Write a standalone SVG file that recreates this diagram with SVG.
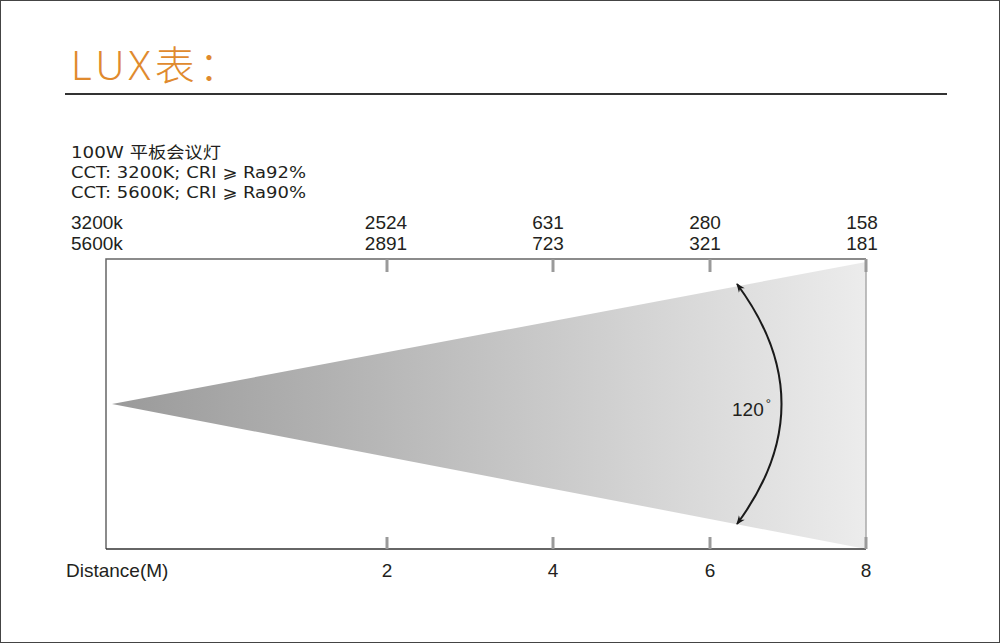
<svg xmlns="http://www.w3.org/2000/svg" width="1000" height="643" viewBox="0 0 1000 643">
<defs>
<linearGradient id="cone" x1="112" y1="0" x2="866" y2="0" gradientUnits="userSpaceOnUse">
<stop offset="0" stop-color="#9a9a9a"/>
<stop offset="1" stop-color="#ececec"/>
</linearGradient>
<marker id="ah" viewBox="0 0 10 10" refX="9" refY="5" markerWidth="9" markerHeight="9" orient="auto-start-reverse" markerUnits="userSpaceOnUse">
<path d="M0,1 L10,5 L0,9 L3,5 Z" fill="#1a1a1a"/>
</marker>
<style>
.t{font-family:"Liberation Sans",Arial,sans-serif;font-size:19px;fill:#231f20}
.g{font-family:"DejaVu Sans","Noto Sans CJK SC",sans-serif;font-size:16px;fill:#231f20}
.m{text-anchor:middle}
.tick{stroke:#9a9a9a;stroke-width:3}
</style>
</defs>
<rect x="0.5" y="0.5" width="999" height="642" fill="#fff" stroke="#444" stroke-width="1"/>
<g id="title">
<text x="71" y="80" font-family="'Noto Sans','Noto Sans CJK SC',sans-serif" font-size="40" fill="#e08a2e" font-weight="300" textLength="168" lengthAdjust="spacing">LUX表：</text>
<line x1="65" y1="94" x2="947" y2="94" stroke="#333" stroke-width="2"/>
</g>
<g id="info">
<text class="g" x="71" y="158" textLength="150" lengthAdjust="spacingAndGlyphs">100W 平板会议灯</text>
<text class="g" x="71" y="178" textLength="235" lengthAdjust="spacingAndGlyphs">CCT: 3200K; CRI ⩾ Ra92%</text>
<text class="g" x="71" y="198" textLength="235" lengthAdjust="spacingAndGlyphs">CCT: 5600K; CRI ⩾ Ra90%</text>
</g>
<g id="chart">
<polygon points="112,404 866,262 866,549" fill="url(#cone)"/>
<polyline points="106,549 106,259 866,259" fill="none" stroke="#666" stroke-width="1.5"/>
<line x1="106" y1="549" x2="866" y2="549" stroke="#333" stroke-width="1.5"/>
<line x1="866" y1="259" x2="866" y2="549" stroke="#aaa" stroke-width="1.5"/>
<line class="tick" x1="387" y1="259" x2="387" y2="272"/>
<line class="tick" x1="553" y1="259" x2="553" y2="272"/>
<line class="tick" x1="710" y1="259" x2="710" y2="272"/>
<line class="tick" x1="866" y1="259" x2="866" y2="272"/>
<line class="tick" x1="387" y1="537" x2="387" y2="549"/>
<line class="tick" x1="553" y1="537" x2="553" y2="549"/>
<line class="tick" x1="710" y1="537" x2="710" y2="549"/>
<line class="tick" x1="866" y1="537" x2="866" y2="549"/>
</g>
<g id="lux-labels">
<text class="t" x="71" y="229">3200k</text>
<text class="t" x="71" y="250">5600k</text>
<text class="t m" x="386" y="229">2524</text>
<text class="t m" x="386" y="250">2891</text>
<text class="t m" x="548" y="229">631</text>
<text class="t m" x="548" y="250">723</text>
<text class="t m" x="705" y="229">280</text>
<text class="t m" x="705" y="250">321</text>
<text class="t m" x="862" y="229">158</text>
<text class="t m" x="862" y="250">181</text>
</g>
<g id="distance-labels">
<text class="t" x="66" y="577">Distance(M)</text>
<text class="t m" x="387" y="577">2</text>
<text class="t m" x="553" y="577">4</text>
<text class="t m" x="710" y="577">6</text>
<text class="t m" x="866" y="577">8</text>
</g>
<g id="connectors">
<path d="M737,284 Q826,404 737,524" fill="none" stroke="#1a1a1a" stroke-width="2" marker-start="url(#ah)" marker-end="url(#ah)"/>
</g>
<g id="angle">
<text class="t" x="732" y="416">120<tspan font-size="13" dy="-8" dx="2">°</tspan></text>
</g>
</svg>
